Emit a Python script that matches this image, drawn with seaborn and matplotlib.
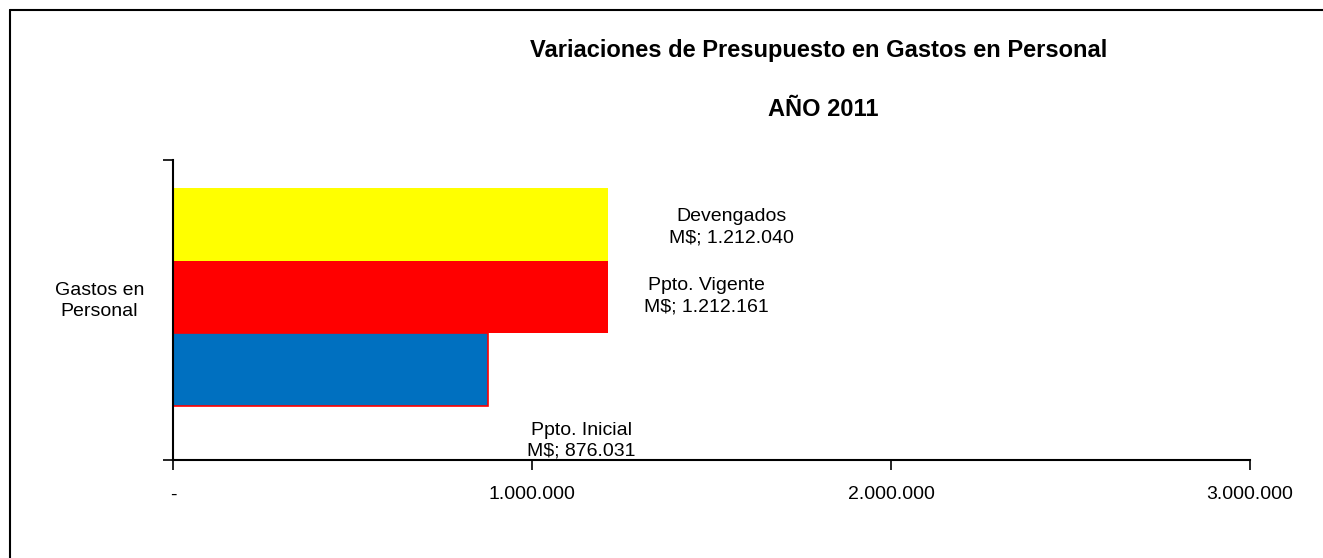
import matplotlib
matplotlib.use("Agg")
import matplotlib.pyplot as plt
from matplotlib.lines import Line2D
from matplotlib.ticker import FixedLocator
import seaborn as sns
import pandas as pd


# ---------------- DATA ----------------
categoria = ["Gastos en\nPersonal"]
series = ["Devengados", "Ppto. Vigente", "Ppto. Inicial"]
montos = [1212040, 1212161, 876031]
colores = ["#FFFF00", "#FF0000", "#0070C0"]
x_ticks = [0, 1000000, 2000000, 3000000]
x_labels = ["-", "1.000.000", "2.000.000", "3.000.000"]

df = pd.DataFrame({
    "categoria": categoria * len(series),
    "serie": series,
    "monto": montos,
})


# ---------------- STYLE ----------------
sns.set_style("white")
plt.rcParams["font.family"] = ["Liberation Sans", "DejaVu Sans"]
plt.rcParams["text.color"] = "black"
plt.rcParams["xtick.color"] = "black"
plt.rcParams["ytick.color"] = "black"


# ---------------- FIGURE ----------------
fig = plt.figure(figsize=(13.23, 5.58), dpi=100)
ax = fig.add_axes([0.1308, 0.1756, 0.814, 0.5377])

sns.barplot(
    data=df, x="monto", y="categoria", hue="serie",
    hue_order=series, palette=colores, orient="h",
    width=0.8, saturation=1, legend=False, ax=ax,
    edgecolor="none", linewidth=0,
)

# red edge on the initial budget bar
for bar in ax.containers[2]:
    bar.set_edgecolor("#FF0000")
    bar.set_linewidth(1.2)

ax.set_xlim(0, 3000000)
ax.set_ylim(0.598, -0.503)
ax.set_xticks(x_ticks)
ax.set_xticklabels(x_labels, fontsize=14)
ax.tick_params(axis="x", bottom=True, direction="out", length=7, width=1.2, pad=12)
ax.tick_params(axis="y", which="major", left=False, length=0, pad=21, labelsize=14)
ax.yaxis.set_minor_locator(FixedLocator([0.598, -0.503]))
ax.tick_params(axis="y", which="minor", left=True, direction="out", length=7, width=1.2)
for lab in ax.get_yticklabels():
    lab.set_multialignment("center")
    lab.set_linespacing(1.3)
ax.set_xlabel("")
ax.set_ylabel("")

sns.despine(ax=ax)
for s in ["left", "bottom"]:
    ax.spines[s].set_color("black")
    ax.spines[s].set_linewidth(1.5)


# ---------------- DATA LABELS ----------------
offsets = [(123, -3), (98, 1), (94, -71)]
for cont, nombre, (dx, dy) in zip(ax.containers, series, offsets):
    bar = cont[0]
    val = bar.get_width()
    yc = bar.get_y() + bar.get_height() / 2
    txt = f"{nombre}\nM$; {val:,.0f}".replace(",", ".")
    ax.annotate(txt, xy=(val, yc), xytext=(dx, dy), textcoords="offset pixels",
                ha="center", va="center", multialignment="center",
                fontsize=14, linespacing=1.3, annotation_clip=False)


# ---------------- TITLES ----------------
fig.text(0.619, 1 - 50 / 558, "Variaciones de Presupuesto en Gastos en Personal",
         ha="center", va="center", fontsize=17, fontweight="bold")
fig.text(0.622, 1 - 110 / 558, "AÑO 2011",
         ha="center", va="center", fontsize=17, fontweight="bold")

# frame border (top and left only)
fig.add_artist(Line2D([10 / 1323, 10 / 1323], [0, 1 - 10 / 558], color="black", lw=1.5))
fig.add_artist(Line2D([10 / 1323, 1], [1 - 10 / 558, 1 - 10 / 558], color="black", lw=1.5))

fig.savefig("out.png", dpi=100, facecolor="white")
